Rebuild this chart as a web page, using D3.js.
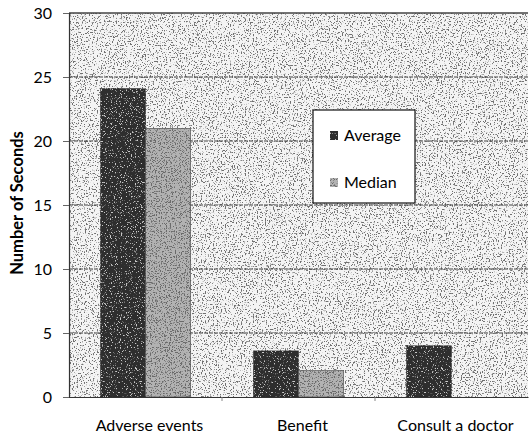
<!DOCTYPE html>
<html>
<head>
<meta charset="utf-8">
<script src="https://cdn.jsdelivr.net/npm/d3@7"></script>
<style>
  html, body { margin: 0; padding: 0; background: #fff; }
  svg { display: block; font-family: Lato, "Open Sans", sans-serif; }
</style>
</head>
<body>
<svg id="chart" width="530" height="437"></svg>
<script>
// Time spent on each topic, in seconds
const categories = ["Adverse events", "Benefit", "Consult a doctor"];
const seriesNames = ["Average", "Median"];
const averageValues = [24.1, 3.6, 4.0];
const medianValues = [21.0, 2.1, null];
const yTicks = [0, 5, 10, 15, 20, 25, 30];

const svg = d3.select("#chart");
const W = 530, H = 437;
const margin = { left: 69, right: 2, top: 13, bottom: 40 };

const x = d3.scaleBand().domain(categories).range([margin.left, W - margin.right]).padding(0);
const xs = d3.scaleBand().domain(seriesNames).range([0, x.bandwidth()]).paddingInner(0).paddingOuter(0.7);
const y = d3.scaleLinear().domain([0, 30]).range([H - margin.bottom, margin.top]);

// Stipple textures: thresholded noise laid over a flat fill
const defs = svg.append("defs");
function grain(id, seed, freq, color, slope, offset) {
  const f = defs.append("filter").attr("id", id)
    .attr("x", 0).attr("y", 0).attr("width", 1).attr("height", 1)
    .attr("color-interpolation-filters", "sRGB");
  f.append("feTurbulence").attr("type", "fractalNoise").attr("baseFrequency", freq)
    .attr("numOctaves", 2).attr("seed", seed).attr("result", "noise");
  const c = d3.color(color);
  const r = c.r / 255, g = c.g / 255, b = c.b / 255;
  f.append("feColorMatrix").attr("in", "noise").attr("type", "matrix")
    .attr("values", `0 0 0 0 ${r}  0 0 0 0 ${g}  0 0 0 0 ${b}  ${slope} 0 0 0 ${offset}`)
    .attr("result", "dots");
  f.append("feComposite").attr("in", "dots").attr("in2", "SourceGraphic").attr("operator", "in").attr("result", "clipped");
  const m = f.append("feMerge");
  m.append("feMergeNode").attr("in", "SourceGraphic");
  m.append("feMergeNode").attr("in", "clipped");
}
grain("g-bg", 3, 0.75, "#707070", 10, -5.7);
grain("g-avg", 7, 0.8, "#c8c8c8", 10, -6.0);
grain("g-med", 11, 0.8, "#6a6a6a", 10, -5.4);

const plotW = W - margin.right - margin.left;
// plot background
svg.append("rect")
  .attr("x", margin.left).attr("y", y(30))
  .attr("width", plotW).attr("height", y(0) - y(30))
  .attr("fill", "#f4f4f4").attr("filter", "url(#g-bg)");

// gridlines
svg.append("g").selectAll("line").data(yTicks.filter(d => d > 0)).join("line")
  .attr("x1", margin.left).attr("x2", W - margin.right)
  .attr("y1", d => y(d)).attr("y2", d => y(d))
  .attr("stroke", "#444").attr("stroke-width", d => d === 30 ? 1.6 : 1)
  .attr("stroke-dasharray", d => d === 30 ? null : "4,1");

// bars
const fills = { Average: ["#2e2e2e", "g-avg"], Median: ["#b2b2b2", "g-med"] };
const rows = categories.map((c, i) => ({ cat: c, vals: [
  { s: "Average", v: averageValues[i] },
  { s: "Median", v: medianValues[i] }
].filter(d => d.v != null) }));

const groups = svg.append("g").selectAll("g").data(rows).join("g")
  .attr("transform", d => `translate(${x(d.cat)},0)`);
groups.selectAll("rect").data(d => d.vals).join("rect")
  .attr("x", d => xs(d.s)).attr("width", xs.bandwidth())
  .attr("y", d => y(d.v)).attr("height", d => y(0) - y(d.v))
  .attr("fill", d => fills[d.s][0]).attr("filter", d => `url(#${fills[d.s][1]})`)
  .attr("stroke", "#222").attr("stroke-width", 0.5);

// y axis
const yAxis = svg.append("g").attr("transform", `translate(${margin.left},0)`)
  .call(d3.axisLeft(y).tickValues(yTicks).tickSize(6).tickPadding(11).tickFormat(d3.format("d")));
yAxis.select(".domain").attr("stroke", "#333").attr("stroke-width", 1.2);
yAxis.selectAll(".tick line").attr("stroke", "#666");
yAxis.selectAll("text").attr("font-size", 16).attr("fill", "#000").attr("font-family", "Lato, sans-serif");

// x axis
const xAxis = svg.append("g").attr("transform", `translate(0,${y(0)})`)
  .call(d3.axisBottom(x).tickSize(0).tickPadding(23));
xAxis.select(".domain").attr("stroke", "#333").attr("stroke-width", 1.2);
xAxis.selectAll("text").attr("font-size", 16).attr("fill", "#000")
  .attr("font-family", "Lato, sans-serif").attr("dx", 4);
// boundary ticks between categories
xAxis.append("g").selectAll("line").data(categories.slice(1)).join("line")
  .attr("x1", d => x(d)).attr("x2", d => x(d)).attr("y1", 0).attr("y2", 4)
  .attr("stroke", "#888");

// y axis title
svg.append("text")
  .attr("transform", `translate(23,203) rotate(-90)`)
  .attr("text-anchor", "middle").attr("font-size", 16.5).attr("font-weight", "bold")
  .attr("fill", "#000").text("Number of Seconds");

// legend
const lg = svg.append("g").attr("transform", "translate(313,110)");
lg.append("rect").attr("width", 102).attr("height", 93)
  .attr("fill", "#fff").attr("stroke", "#111").attr("stroke-width", 1.2);
const items = lg.selectAll("g").data(seriesNames).join("g")
  .attr("transform", (d, i) => `translate(17,${27 + i * 47})`);
items.append("rect").attr("x", 0).attr("y", -6).attr("width", 8).attr("height", 9)
  .attr("fill", d => fills[d][0]).attr("filter", d => `url(#${fills[d][1]})`);
items.append("text").attr("x", 14).attr("y", 4).attr("font-size", 16)
  .attr("fill", "#000").text(d => d);
</script>
</body>
</html>
